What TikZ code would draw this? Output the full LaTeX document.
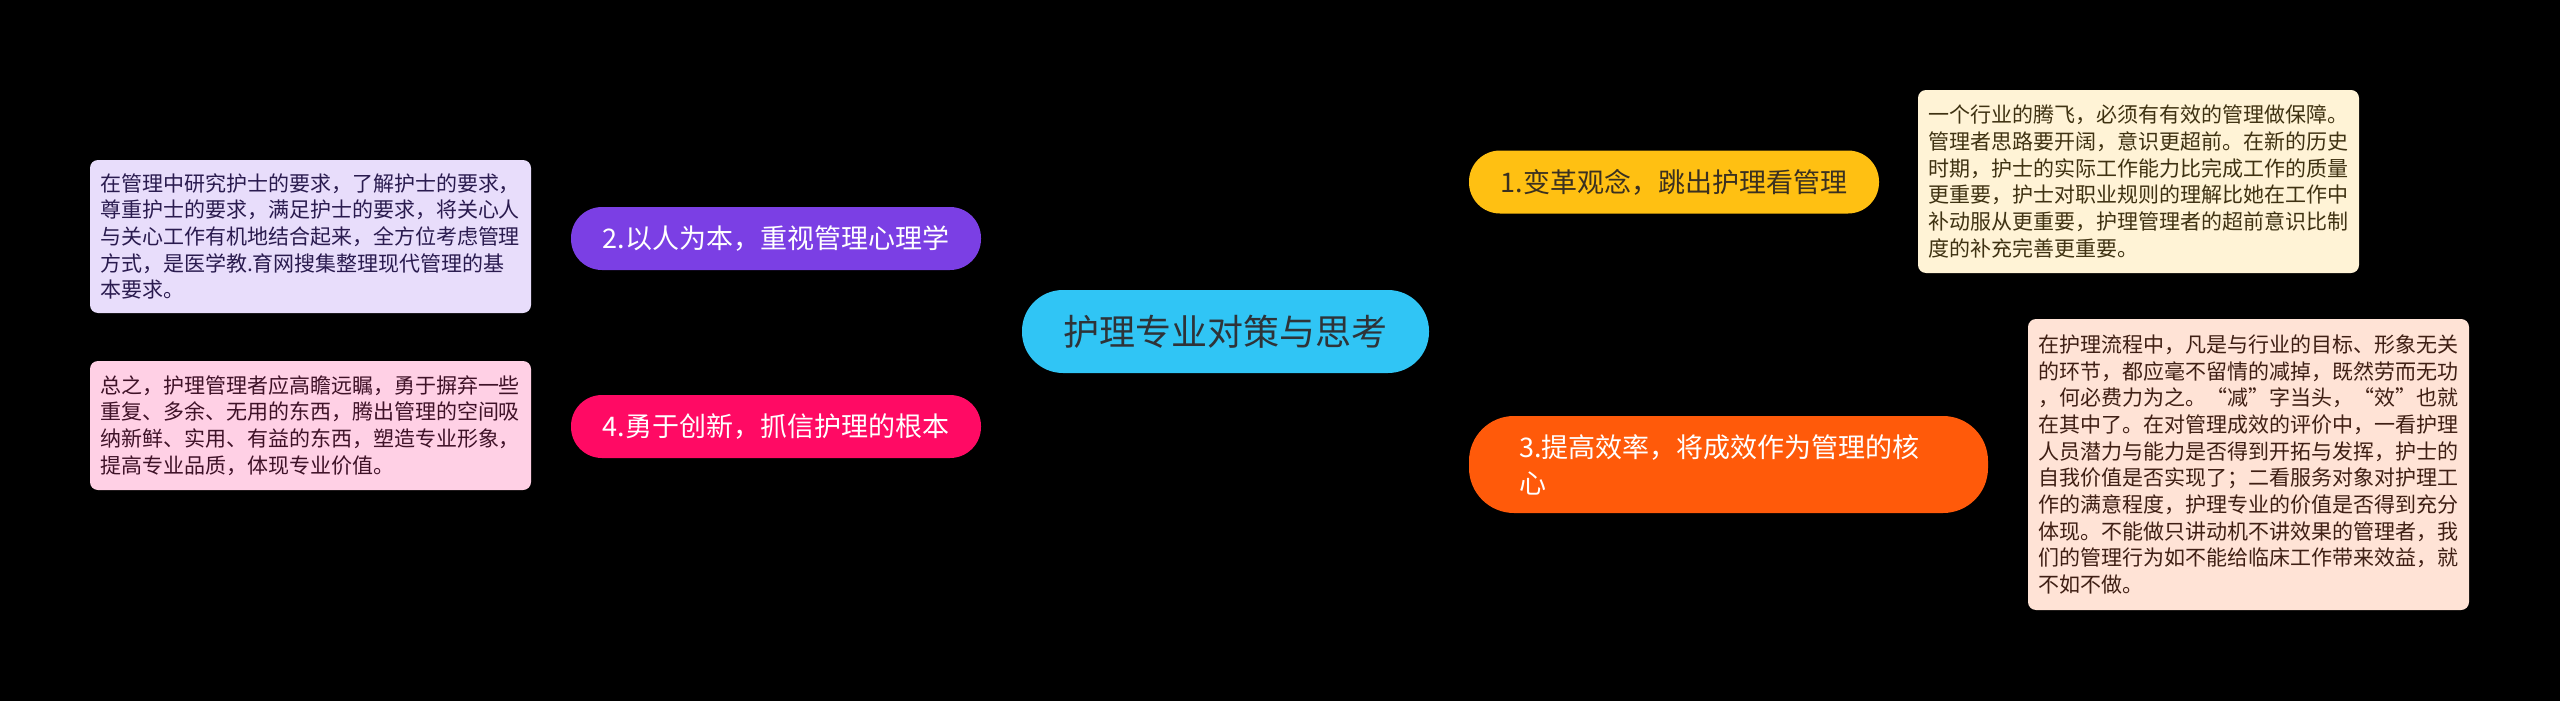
\documentclass[tikz,border=0pt]{standalone}
\usepackage{fontspec}
\setmainfont{Noto Sans CJK SC}
\definecolor{rootc}{HTML}{30C5F5}
\definecolor{roott}{HTML}{2E3338}
\definecolor{yelc}{HTML}{FFC012}
\definecolor{yelt}{HTML}{3A3020}
\definecolor{purc}{HTML}{7B3FE4}
\definecolor{orac}{HTML}{FF5A0A}
\definecolor{pinc}{HTML}{FF0A64}
\definecolor{lyf}{HTML}{FFF3D6}
\definecolor{lyt}{HTML}{3F3212}
\definecolor{lof}{HTML}{FFE3D6}
\definecolor{lot}{HTML}{3F1F14}
\definecolor{lpf}{HTML}{E8DDFB}
\definecolor{lpt}{HTML}{2A1B4F}
\definecolor{lkf}{HTML}{FFD0E5}
\definecolor{lkt}{HTML}{3F1228}
\pgfdeclarelayer{bg}
\pgfsetlayers{bg,main}
\begin{document}
\begin{tikzpicture}[x=1pt,y=1pt,
  rootbox/.style={fill=rootc, rounded corners=41pt, minimum width=407pt, minimum height=83pt,
    inner sep=0pt, text=roott, font=\fontsize{36}{40}\selectfont},
  branchbox/.style={rounded corners=31pt, minimum width=410pt, minimum height=63pt,
    inner sep=0pt, font=\fontsize{27}{36}\selectfont},
  leafbox/.style={rounded corners=8pt, text width=421pt, inner xsep=10pt, inner ysep=0pt,
    align=left, font=\fontsize{21}{26.7}\selectfont},
  conn/.style={line width=3pt}]
\useasboundingbox[fill=black] (0,0) rectangle (2560,-701);

\node[rootbox] (root) at (1225.5,-331.5) {护理专业对策与思考};

\node[branchbox, fill=yelc, text=yelt] (n1) at (1674,-182) {1.变革观念，跳出护理看管理};
\node[branchbox, fill=purc, text=white] (n2) at (776,-238.5) {2.以人为本，重视管理心理学};
\node[branchbox, fill=orac, text=white, rounded corners=45pt, minimum height=97pt,
  text width=419pt, inner xsep=50pt, align=left] (n3) at (1728.5,-464.5)
  {3.提高效率，将成效作为管理的核\\心};
\node[branchbox, fill=pinc, text=white] (n4) at (776,-426.5) {4.勇于创新，抓信护理的根本};

\node[leafbox, fill=lyf, text=lyt, minimum height=183pt] (l1) at (2138.5,-181.5)
 {一个行业的腾飞，必须有有效的管理做保障。\\
  管理者思路要开阔，意识更超前。在新的历史\\
  时期，护士的实际工作能力比完成工作的质量\\
  更重要，护士对职业规则的理解比她在工作中\\
  补动服从更重要，护理管理者的超前意识比制\\
  度的补充完善更重要。};

\node[leafbox, fill=lof, text=lot, minimum height=291pt] (l3) at (2248.5,-464.5)
 {在护理流程中，凡是与行业的目标、形象无关\\
  的环节，都应毫不留情的减掉，既然劳而无功\\
  ，何必费力为之。“减”字当头，“效”也就\\
  在其中了。在对管理成效的评价中，一看护理\\
  人员潜力与能力是否得到开拓与发挥，护士的\\
  自我价值是否实现了；二看服务对象对护理工\\
  作的满意程度，护理专业的价值是否得到充分\\
  体现。不能做只讲动机不讲效果的管理者，我\\
  们的管理行为如不能给临床工作带来效益，就\\
  不如不做。};

\node[leafbox, fill=lpf, text=lpt, minimum height=153pt] (l2) at (310.5,-236.5)
 {在管理中研究护士的要求，了解护士的要求，\\
  尊重护士的要求，满足护士的要求，将关心人\\
  与关心工作有机地结合起来，全方位考虑管理\\
  方式，是医学教.育网搜集整理现代管理的基\\
  本要求。};

\node[leafbox, fill=lkf, text=lkt, minimum height=129pt] (l4) at (310.5,-425.5)
 {总之，护理管理者应高瞻远瞩，勇于摒弃一些\\
  重复、多余、无用的东西，腾出管理的空间吸\\
  纳新鲜、实用、有益的东西，塑造专业形象，\\
  提高专业品质，体现专业价值。};

\begin{pgfonlayer}{bg}
\draw[conn, yelc] ([xshift=6.5pt]root.center) .. controls +(0,132) and +(-159,0) .. (n1.west);
\draw[conn, orac] ([xshift=6.5pt]root.center) .. controls +(0,-108) and +(-159,0) .. (n3.west);
\draw[conn, purc] ([xshift=-18.5pt]root.center) .. controls +(0,82) and +(139,0) .. (n2.east);
\draw[conn, pinc] ([xshift=-18.5pt]root.center) .. controls +(0,-83) and +(139,0) .. (n4.east);
\draw[conn, yelc] (n1.east) -- (l1.west);
\draw[conn, orac] (n3.east) -- (l3.west);
\draw[conn, purc] (n2.west) -- (l2.east);
\draw[conn, pinc] (n4.west) -- (l4.east);
\end{pgfonlayer}
\end{tikzpicture}
\end{document}
